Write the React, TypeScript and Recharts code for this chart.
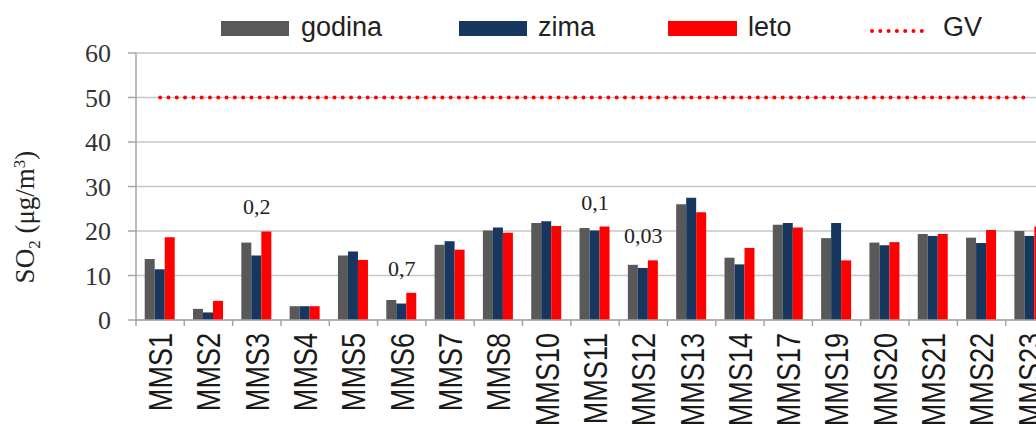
import { ComposedChart, Bar, Line, XAxis, YAxis, CartesianGrid, LabelList } from "recharts";

const stations = [
  "MMS1", "MMS2", "MMS3", "MMS4", "MMS5", "MMS6", "MMS7", "MMS8", "MMS10", "MMS11",
  "MMS12", "MMS13", "MMS14", "MMS17", "MMS19", "MMS20", "MMS21", "MMS22", "MMS23",
];
const godina = [13.7, 2.5, 17.4, 3.1, 14.5, 4.5, 16.9, 20.1, 21.8, 20.7, 12.4, 26.0, 14.0, 21.4, 18.4, 17.4, 19.3, 18.5, 20.0];
const zima = [11.4, 1.7, 14.5, 3.1, 15.4, 3.7, 17.7, 20.8, 22.2, 20.1, 11.7, 27.5, 12.5, 21.8, 21.8, 16.8, 18.9, 17.3, 18.9];
const leto = [18.6, 4.3, 19.9, 3.1, 13.5, 6.1, 15.8, 19.6, 21.1, 21.0, 13.4, 24.2, 16.2, 20.8, 13.4, 17.5, 19.3, 20.2, 21.0];
const gv = 50;
// small numbers written above some stations
const notes: Record<string, string> = { MMS3: "0,2", MMS6: "0,7", MMS11: "0,1", MMS12: "0,03" };
const yTicks = [0, 10, 20, 30, 40, 50, 60];

const data = stations.map((s, i) => ({
  name: s,
  godina: godina[i],
  zima: zima[i],
  leto: leto[i],
  gv,
  noteAt: notes[s] ? Math.max(godina[i], zima[i], leto[i]) : null,
  note: notes[s] ?? "",
}));

const CHART_W = 1060;
const CHART_H = 460;
const Y_W = 136;
const RIGHT = 6;
const BAND = (CHART_W - Y_W - RIGHT) / stations.length;

const sans = "'Liberation Sans', Arial, sans-serif";
const serif = "'Liberation Serif', 'Times New Roman', serif";

function StationTick(props: any) {
  const { x, y, payload } = props;
  const left = x - BAND / 2;
  return (
    <g>
      <line x1={left} y1={y} x2={left} y2={y + 6} stroke="#a6a6a6" strokeWidth={1.5} />
      <text
        transform={`translate(${x},${y + 13}) rotate(-90) scale(0.82,1)`}
        textAnchor="end"
        dy="0.36em"
        fontFamily={sans}
        fontSize={33}
        fill="#1a1a1a"
      >
        {payload.value}
      </text>
    </g>
  );
}

function NoteLabel(props: any) {
  const { x, y, value } = props;
  if (!value) return null;
  return (
    <text x={x} y={y - 17} textAnchor="middle" fontFamily={serif} fontSize={22} fill="#222">
      {value}
    </text>
  );
}

function YTitle() {
  return (
    <text
      transform="translate(25,217) rotate(-90)"
      textAnchor="middle"
      dy="0.35em"
      fontFamily={serif}
      fontSize={27}
      fill="#222"
    >
      SO
      <tspan fontSize={17} dy={6}>2</tspan>
      <tspan dy={-6}> (μg/m</tspan>
      <tspan fontSize={17} dy={-9}>3</tspan>
      <tspan dy={9}>)</tspan>
    </text>
  );
}

function TopLegend() {
  const items = [
    { x: 221, w: 68, color: "#595959", label: "godina", tx: 301 },
    { x: 459, w: 68, color: "#17375e", label: "zima", tx: 538 },
    { x: 668, w: 69, color: "#ff0000", label: "leto", tx: 748 },
  ];
  return (
    <svg width={1036} height={50} style={{ position: "absolute", left: 0, top: 0 }}>
      {items.map((it) => (
        <g key={it.label}>
          <rect x={it.x} y={21} width={it.w} height={15} fill={it.color} />
          <text x={it.tx} y={36} fontFamily={sans} fontSize={27} fill="#222">
            {it.label}
          </text>
        </g>
      ))}
      <line
        x1={872}
        y1={31}
        x2={930}
        y2={31}
        stroke="#ff0000"
        strokeWidth={4}
        strokeDasharray="0 8.3"
        strokeLinecap="round"
      />
      <text x={943} y={36} fontFamily={sans} fontSize={27} fill="#222">
        GV
      </text>
    </svg>
  );
}

export default function App() {
  return (
    <div
      style={{
        position: "absolute",
        left: 0,
        top: 0,
        width: 1036,
        height: 426,
        overflow: "hidden",
        background: "#fff",
      }}
    >
      <ComposedChart
        width={CHART_W}
        height={CHART_H}
        data={data}
        margin={{ top: 53, right: RIGHT, left: 0, bottom: 0 }}
        barCategoryGap="18%"
        barGap={0}
      >
        <CartesianGrid vertical={false} stroke="#c6c6c6" strokeWidth={1.5} />
        <XAxis
          dataKey="name"
          interval={0}
          height={CHART_H - 320}
          axisLine={{ stroke: "#a6a6a6", strokeWidth: 1.5 }}
          tickLine={false}
          tickSize={0}
          tickMargin={0}
          tick={<StationTick />}
        />
        <YAxis
          width={Y_W}
          domain={[0, 60]}
          ticks={yTicks}
          interval={0}
          axisLine={{ stroke: "#a6a6a6", strokeWidth: 1.5 }}
          tickLine={{ stroke: "#a6a6a6", strokeWidth: 1.5 }}
          tickSize={8}
          tickMargin={17}
          tick={{ fontFamily: serif, fontSize: 26, fill: "#333" }}
          label={<YTitle />}
        />
        <Bar dataKey="godina" fill="#595959" isAnimationActive={false} />
        <Bar dataKey="zima" fill="#17375e" isAnimationActive={false} />
        <Bar dataKey="leto" fill="#ff0000" isAnimationActive={false} />
        <Line
          dataKey="gv"
          stroke="#ff0000"
          strokeWidth={4}
          strokeDasharray="0 8.3"
          strokeLinecap="round"
          dot={false}
          activeDot={false}
          isAnimationActive={false}
        />
        <Line
          dataKey="noteAt"
          stroke="none"
          dot={false}
          activeDot={false}
          connectNulls={false}
          isAnimationActive={false}
        >
          <LabelList dataKey="note" content={<NoteLabel />} />
        </Line>
      </ComposedChart>
      <TopLegend />
    </div>
  );
}
